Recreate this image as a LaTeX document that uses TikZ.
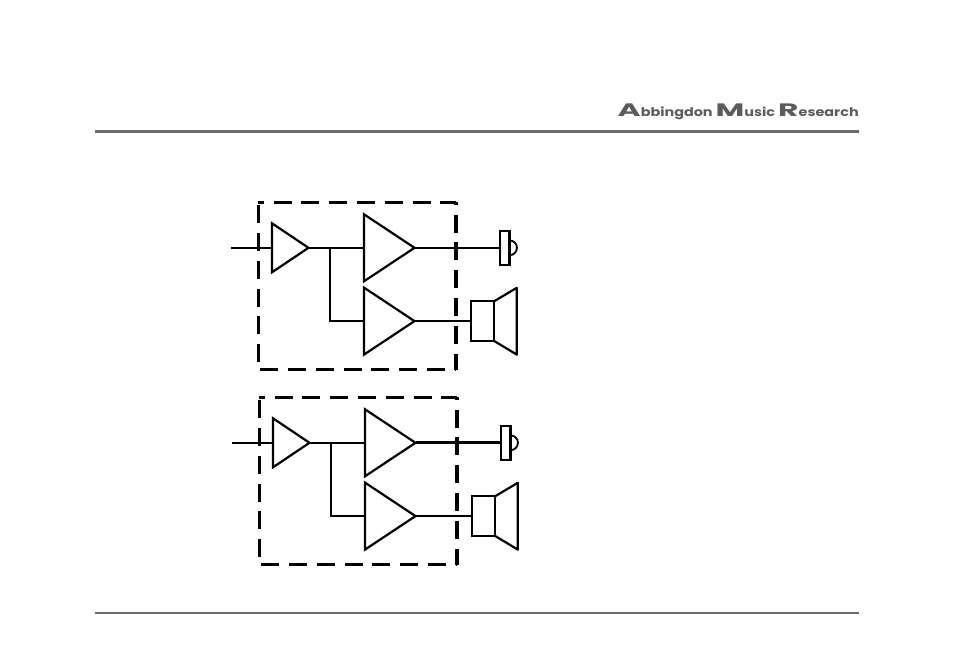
\documentclass[tikz,border=0pt]{standalone}
\usepackage{fontspec}
\usepackage{graphicx}
\setmainfont{Poppins}
\usetikzlibrary{shapes.geometric}
\definecolor{rulegray}{gray}{0.42}
\definecolor{logogray}{gray}{0.36}
\newcommand{\logocap}[1]{\scalebox{1.45}[1]{\fontsize{18pt}{18pt}\selectfont #1}}
\tikzset{
  wire/.style={line width=2.2pt,line join=miter},
  outline/.style={draw,line width=2.2pt,inner sep=0pt,outer sep=0pt},
  ampsmall/.style={outline,isosceles triangle,isosceles triangle stretches,shape border rotate=0,anchor=lower side,minimum height=36.5pt,minimum width=49pt},
  ampbig/.style={outline,isosceles triangle,isosceles triangle stretches,shape border rotate=0,anchor=lower side,minimum height=50.5pt,minimum width=67pt},
  tweeter/.style={outline,rectangle,minimum width=9.3pt,minimum height=34pt},
  woofer/.style={outline,rectangle,minimum width=23.3pt,minimum height=40pt},
  boxframe/.style={rectangle,inner sep=0pt,outer sep=0pt,minimum width=197.6pt,minimum height=167.3pt},
  dashline/.style={line width=3.2pt,dash pattern=on 18pt off 9.8pt},
  headrule/.style={rulegray,line cap=butt},
}
\newcommand{\channel}[4]{%
  % #1 prefix, #2 dx, #3 dy, #4 width of the output wires
  \begin{scope}[shift={(#2,#3)}]
    \node[boxframe] (#1box) at (356.8,285.7) {};
    \node[ampsmall] (#1pre) at (271.7,247.4) {};
    \node[ampbig] (#1hi) at (363.7,247.4) {};
    \node[ampbig] (#1lo) at (363.7,320.7) {};
    \node[tweeter] (#1tw) at (504.6,247.4) {};
    \node[woofer] (#1wf) at (482.4,320.7) {};
    \coordinate (#1in) at (231,247.4);
    \coordinate (#1branch) at (330,247.4);
    \coordinate (#1c1) at (516.5,287.4);
    \coordinate (#1c2) at (516.5,354.2);
    \draw[wire,line width=1.8pt] (#1in) -- (#1pre.lower side);
    \draw[wire] (#1pre.apex) -- (#1hi.lower side);
    \draw[wire] (#1branch) |- (#1lo.lower side);
    \draw[wire,line width=#4] (#1hi.apex) -- (#1tw.west);
    \draw[wire,line width=#4] (#1lo.apex) -- (#1wf.west);
    \draw[wire,line join=round] (#1wf.north east) -- (#1c1) -- (#1c2) -- (#1wf.south east);
    \draw[wire,line width=1.8pt] (#1tw.east) ++(0,-7.4) arc[start angle=-90,end angle=90,radius=7.4];
    \draw[dashline,dash phase=12.5pt] (#1box.north west) -- (#1box.north east);
    \draw[dashline,dash phase=15.7pt] (#1box.north east) -- (#1box.south east);
    \draw[dashline,dash phase=26pt] (#1box.south west) -- (#1box.south east);
    \draw[dashline,dash phase=25pt] (#1box.north west) -- (#1box.south west);
  \end{scope}}
\begin{document}
\begin{tikzpicture}[x=1pt,y=-1pt]
  \useasboundingbox (0,0) rectangle (954,672);
  \coordinate (t1) at (95,131.6);
  \coordinate (t2) at (859,131.6);
  \coordinate (b1) at (95,613);
  \coordinate (b2) at (859,613);
  \draw[headrule,line width=3pt] (t1) -- (t2);
  \draw[headrule,line width=1.5pt] (b1) -- (b2);
  \node[anchor=base east,inner sep=0pt,text=logogray] (logo) at (859,116)
    {\scalebox{1.2}[1]{\fontsize{12pt}{14pt}\selectfont\textbf{\logocap{A}bbingdon \logocap{M}usic \logocap{R}esearch}}};
  \channel{u}{0.3}{0.4}{2.2pt}
  \channel{d}{1.3}{195.4}{2.7pt}
\end{tikzpicture}
\end{document}
